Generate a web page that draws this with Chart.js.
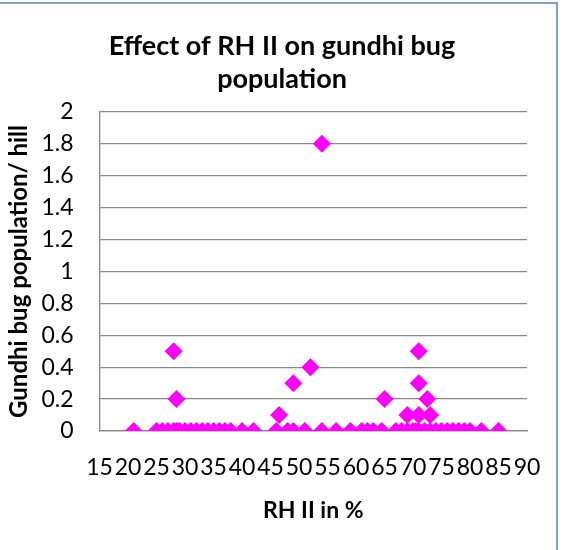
<!DOCTYPE html>
<html>
<head>
<meta charset="utf-8">
<script src="https://cdn.jsdelivr.net/npm/chart.js@4"></script>
<style>
  body { margin: 0; background: #fff; }
  #wrap { position: relative; width: 582px; height: 550px; overflow: hidden; }
  #frame { position: absolute; left: -3px; top: 2px; width: 557px; height: 600px; border: 2px solid #7f9fd0; }
  #chart { position: absolute; left: 0; top: 0; }
</style>
</head>
<body>
<div id="wrap">
  <div id="frame"></div>
  <canvas id="chart" width="582" height="550"></canvas>
</div>
<script>
// RH II (%) 값
var rhII = [21, 25, 26, 27, 28, 28.5, 29, 30, 31, 32, 33, 34, 35, 36, 37, 38, 40, 42,
  46, 48, 49, 51, 54, 56.5, 59, 61, 62, 63, 64.5, 67, 68, 69, 70, 70.5, 71, 72, 73,
  74, 75, 76, 77, 78, 79, 80, 82, 85,
  28, 28.5, 46.5, 49, 52, 54, 65, 69, 71, 71, 71, 72.5, 73];

// hill당 gundhi bug 개체수
var bugPop = [0, 0, 0, 0, 0, 0, 0, 0, 0, 0, 0, 0, 0, 0, 0, 0, 0, 0,
  0, 0, 0, 0, 0, 0, 0, 0, 0, 0, 0, 0, 0, 0, 0, 0, 0, 0, 0,
  0, 0, 0, 0, 0, 0, 0, 0, 0,
  0.5, 0.2, 0.1, 0.3, 0.4, 1.8, 0.2, 0.1, 0.1, 0.3, 0.5, 0.2, 0.1];

var chartTitle = ['Effect of RH II on gundhi bug', 'population'];
var xTitle = 'RH II in %';
var yTitle = 'Gundhi bug population/ hill';

var points = rhII.map(function (x, i) {
  return { x: x, y: bugPop[i] };
});

var fontName = 'Lato, Carlito, Calibri, sans-serif';
var gridColor = '#868686';

var ctx = document.getElementById('chart').getContext('2d');
var chart = new Chart(ctx, {
  type: 'scatter',
  data: {
    datasets: [{
      data: points,
      pointStyle: 'rectRot',
      pointRadius: 9,
      pointHoverRadius: 9,
      backgroundColor: '#ff00ff',
      borderColor: '#ff00ff',
      borderWidth: 0
    }]
  },
  options: {
    responsive: false,
    animation: false,
    // 왼쪽 여백은 제목을 가운데 맞추기 위한 것
    layout: { padding: { left: 37, right: 55, top: 0, bottom: 0 } },
    plugins: {
      legend: { display: false },
      tooltip: { enabled: false },
      title: {
        display: true,
        text: chartTitle,
        color: '#000',
        font: { family: fontName, size: 27, weight: 'bold', lineHeight: 1.22 },
        padding: { top: 30, bottom: 16 }
      }
    },
    scales: {
      x: {
        type: 'linear',
        min: 15,
        max: 90,
        afterFit: function (scale) { scale.height = 119; },
        grid: { display: false, drawTicks: false },
        border: { display: true, color: gridColor, width: 1.3 },
        ticks: {
          stepSize: 5,
          autoSkip: false,
          maxRotation: 0,
          minRotation: 0,
          padding: 23,
          color: '#000',
          font: { family: fontName, size: 23 }
        },
        title: {
          display: true,
          text: xTitle,
          color: '#000',
          font: { family: fontName, size: 23, weight: 'bold' },
          padding: { top: 0, bottom: 26 }
        }
      },
      y: {
        min: 0,
        max: 2,
        afterFit: function (scale) { scale.width = 62.5; },
        grid: { color: gridColor, lineWidth: 1.3, drawTicks: false },
        border: { display: true, color: gridColor, width: 1.3 },
        ticks: {
          stepSize: 0.2,
          padding: 26,
          color: '#000',
          font: { family: fontName, size: 23 },
          callback: function (value) { return String(Number(value.toFixed(1))); }
        },
        title: {
          display: true,
          text: yTitle,
          color: '#000',
          font: { family: fontName, size: 24, weight: 'bold' },
          padding: { top: -32, bottom: 0 }
        }
      }
    }
  }
});
</script>
</body>
</html>
